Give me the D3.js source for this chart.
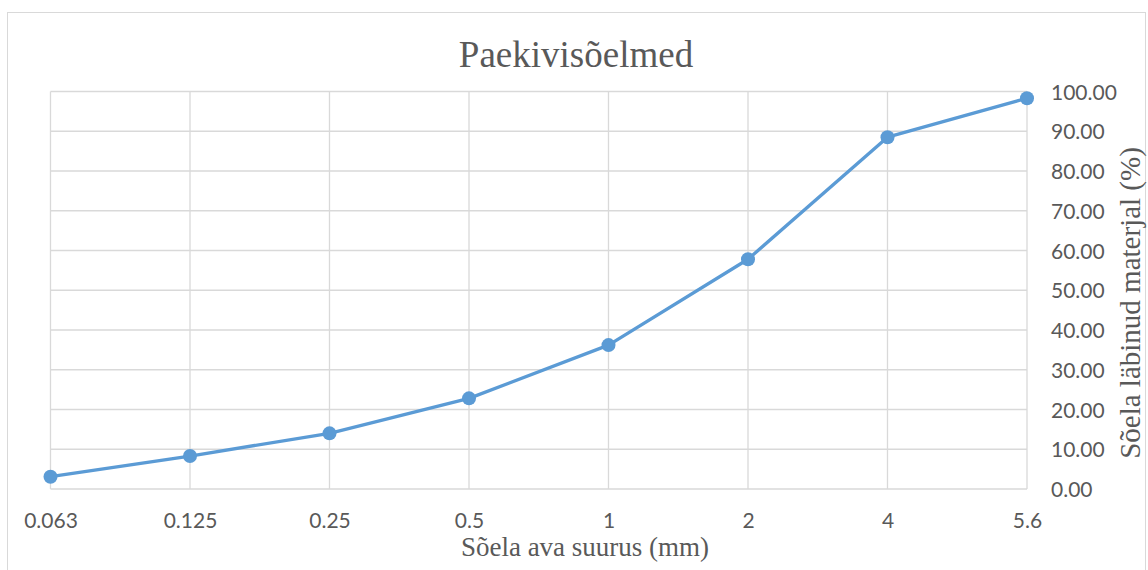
<!DOCTYPE html>
<html>
<head>
<meta charset="utf-8">
<script src="https://cdn.jsdelivr.net/npm/d3@7"></script>
<style>
  html, body { margin: 0; padding: 0; background: #fff; }
  svg { display: block; }
  .serif { font-family: "Liberation Serif", "Times New Roman", "DejaVu Serif", serif; }
  .sans { font-family: Lato, "Open Sans", sans-serif; }
</style>
</head>
<body>
<div id="chart"></div>
<script>
// Sieve sizes (mm) and passing percentage
const sieveSizes = ["0.063", "0.125", "0.25", "0.5", "1", "2", "4", "5.6"];
const passingPct = [3.1, 8.3, 14.0, 22.8, 36.2, 57.8, 88.5, 98.3];
const yTicks = [0, 10, 20, 30, 40, 50, 60, 70, 80, 90, 100];

const width = 1148, height = 570;
const plot = { left: 50.5, right: 1027, top: 91.5, bottom: 489 };
const textColor = "#595959";
const gridColor = "#d9d9d9";
const lineColor = "#5B9BD5";

const svg = d3.select("#chart").append("svg")
  .attr("width", width).attr("height", height);

// chart area border
svg.append("rect")
  .attr("x", 7.5).attr("y", 12.5)
  .attr("width", 1138).attr("height", 600)
  .attr("fill", "#fff").attr("stroke", gridColor).attr("stroke-width", 1);

const x = d3.scalePoint().domain(sieveSizes).range([plot.left, plot.right]);
const y = d3.scaleLinear().domain([0, 100]).range([plot.bottom, plot.top]);

// horizontal gridlines
svg.append("g").selectAll("line").data(yTicks).join("line")
  .attr("x1", plot.left).attr("x2", plot.right)
  .attr("y1", d => y(d)).attr("y2", d => y(d))
  .attr("stroke", gridColor).attr("stroke-width", 1.3);

// vertical gridlines
svg.append("g").selectAll("line").data(sieveSizes).join("line")
  .attr("x1", d => x(d)).attr("x2", d => x(d))
  .attr("y1", plot.top).attr("y2", plot.bottom)
  .attr("stroke", gridColor).attr("stroke-width", 1.3);

// x axis labels
const xAxis = d3.axisBottom(x).tickSize(0).tickPadding(0);
const gx = svg.append("g").attr("transform", `translate(0,${plot.bottom})`).call(xAxis);
gx.select(".domain").remove();
gx.attr("font-family", null).attr("font-size", null);
gx.selectAll("text")
  .attr("class", "sans")
  .attr("y", 39).attr("dy", 0)
  .attr("fill", textColor)
  .style("font-size", "21px");

// y axis labels on the right
const yAxis = d3.axisRight(y).tickValues(yTicks).tickSize(0).tickPadding(0)
  .tickFormat(d3.format(".2f"));
const gy = svg.append("g").attr("transform", `translate(${plot.right + 24},0)`).call(yAxis);
gy.select(".domain").remove();
gy.attr("font-family", null).attr("font-size", null);
gy.selectAll("text")
  .attr("class", "sans")
  .attr("x", 0).attr("dy", "0.36em")
  .attr("fill", textColor)
  .style("font-size", "21px");

// series line
const line = d3.line()
  .x((d, i) => x(sieveSizes[i]))
  .y(d => y(d));

svg.append("path")
  .datum(passingPct)
  .attr("d", line)
  .attr("fill", "none")
  .attr("stroke", lineColor)
  .attr("stroke-width", 3.3)
  .attr("stroke-linejoin", "round");

svg.append("g").selectAll("circle").data(passingPct).join("circle")
  .attr("cx", (d, i) => x(sieveSizes[i]))
  .attr("cy", d => y(d))
  .attr("r", 7)
  .attr("fill", lineColor);

// title
svg.append("text")
  .attr("class", "serif")
  .attr("x", 576).attr("y", 67)
  .attr("text-anchor", "middle")
  .attr("fill", textColor)
  .style("font-size", "37px")
  .text("Paekivisõelmed");

// x axis title
svg.append("text")
  .attr("class", "serif")
  .attr("x", 585).attr("y", 556)
  .attr("text-anchor", "middle")
  .attr("fill", textColor)
  .style("font-size", "27px")
  .text("Sõela ava suurus (mm)");

// y axis title
svg.append("text")
  .attr("class", "serif")
  .attr("transform", `translate(1140,303) rotate(-90)`)
  .attr("text-anchor", "middle")
  .attr("fill", textColor)
  .style("font-size", "29px")
  .text("Sõela läbinud materjal (%)");
</script>
</body>
</html>
